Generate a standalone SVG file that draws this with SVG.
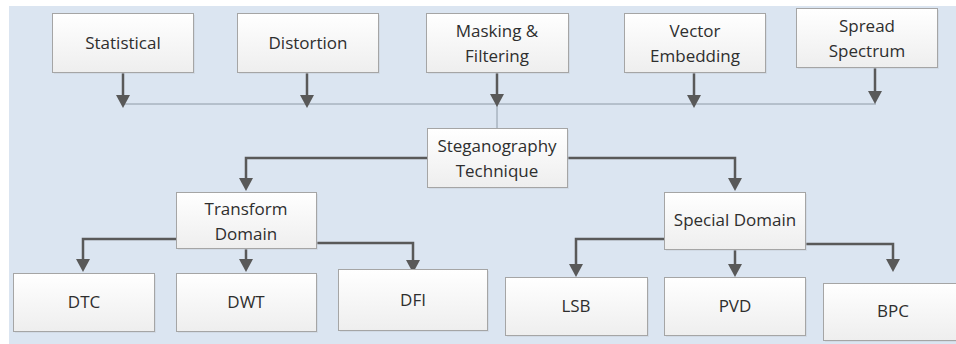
<svg xmlns="http://www.w3.org/2000/svg" width="956" height="344" viewBox="0 0 956 344">
<defs>
<linearGradient id="g" x1="0" y1="0" x2="0" y2="1">
<stop offset="0" stop-color="#ffffff"/>
<stop offset="1" stop-color="#eeeeee"/>
</linearGradient>
<marker id="ah" markerUnits="userSpaceOnUse" markerWidth="14" markerHeight="14" viewBox="0 0 13 14" refX="1" refY="7" orient="auto">
<path d="M0,0 L13,7 L0,14 z" fill="#595959"/>
</marker>
<style>
.box{fill:url(#g);stroke:#a5a5a5;stroke-width:1}
.sh{fill:#c5ccd6;opacity:0.45}
.t{font-family:"Open Sans","Liberation Sans",sans-serif;font-size:17px;fill:#2e2e2e;text-anchor:middle}
.c{fill:none;stroke:#595959;stroke-width:2.5;marker-end:url(#ah)}
.bus{fill:none;stroke:#8e9aa6;stroke-width:1}
</style>
</defs>
<rect x="9" y="6" width="947" height="338" fill="#dbe5f1"/>
<g id="connectors">
<path class="bus" d="M123,104 H876 M497,104 V128"/>
<path class="c" d="M123,72 V96"/>
<path class="c" d="M307,72 V96"/>
<path class="c" d="M497,72 V95"/>
<path class="c" d="M694,72 V96"/>
<path class="c" d="M875,67 V92"/>
<path class="c" d="M427,158 H246 V179"/>
<path class="c" d="M567,158 H735 V179"/>
<path class="c" d="M176,239 H83 V260"/>
<path class="c" d="M246,248 V260"/>
<path class="c" d="M316,243 H413 V261"/>
<path class="c" d="M664,239 H576 V265"/>
<path class="c" d="M735,249 V265"/>
<path class="c" d="M805,244 H893 V260"/>
</g>
<g id="statistical"><rect class="sh" x="54" y="15" width="141" height="59"/><rect class="box" x="52.5" y="13.5" width="141" height="59"/><text class="t" x="123" y="49">Statistical</text></g>
<g id="distortion"><rect class="sh" x="239" y="15" width="141" height="59"/><rect class="box" x="237.5" y="13.5" width="141" height="59"/><text class="t" x="308" y="49">Distortion</text></g>
<g id="masking"><rect class="sh" x="428" y="15" width="142" height="59"/><rect class="box" x="426.5" y="13.5" width="142" height="59"/><text class="t" x="497" y="37">Masking &amp;</text><text class="t" x="497" y="62">Filtering</text></g>
<g id="vector"><rect class="sh" x="626" y="15" width="141" height="59"/><rect class="box" x="624.5" y="13.5" width="141" height="59"/><text class="t" x="695" y="37">Vector</text><text class="t" x="695" y="62">Embedding</text></g>
<g id="spread"><rect class="sh" x="798" y="10" width="141" height="59"/><rect class="box" x="796.5" y="8.5" width="141" height="59"/><text class="t" x="867" y="32">Spread</text><text class="t" x="867" y="57">Spectrum</text></g>
<g id="steganography"><rect class="sh" x="429" y="130" width="140" height="59"/><rect class="box" x="427.5" y="128.5" width="140" height="59"/><text class="t" x="497" y="152">Steganography</text><text class="t" x="497" y="177">Technique</text></g>
<g id="transform"><rect class="sh" x="178" y="194" width="140" height="56"/><rect class="box" x="176.5" y="192.5" width="140" height="56"/><text class="t" x="246" y="215">Transform</text><text class="t" x="246" y="240">Domain</text></g>
<g id="special"><rect class="sh" x="666" y="194" width="141" height="57"/><rect class="box" x="664.5" y="192.5" width="141" height="57"/><text class="t" x="735" y="226">Special Domain</text></g>
<g id="dtc"><rect class="sh" x="15" y="275" width="141" height="58"/><rect class="box" x="13.5" y="273.5" width="141" height="58"/><text class="t" x="84" y="308">DTC</text></g>
<g id="dwt"><rect class="sh" x="178" y="275" width="140" height="58"/><rect class="box" x="176.5" y="273.5" width="140" height="58"/><text class="t" x="246" y="308">DWT</text></g>
<g id="dfi"><rect class="sh" x="340" y="271" width="149" height="61"/><rect class="box" x="338.5" y="269.5" width="149" height="61"/><text class="t" x="413" y="306">DFI</text></g>
<g id="lsb"><rect class="sh" x="507" y="279" width="142" height="58"/><rect class="box" x="505.5" y="277.5" width="142" height="58"/><text class="t" x="576" y="312">LSB</text></g>
<g id="pvd"><rect class="sh" x="666" y="279" width="141" height="58"/><rect class="box" x="664.5" y="277.5" width="141" height="58"/><text class="t" x="735" y="312">PVD</text></g>
<g id="bpc"><rect class="sh" x="825" y="285" width="141" height="57"/><rect class="box" x="823.5" y="283.5" width="141" height="57"/><text class="t" x="893" y="317">BPC</text></g>
</svg>
